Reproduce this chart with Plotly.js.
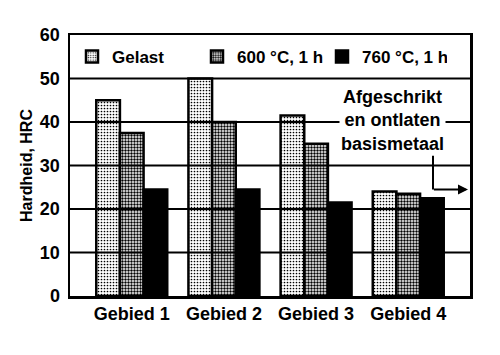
<!DOCTYPE html>
<html><head><meta charset="utf-8">
<script src="https://cdn.plot.ly/plotly-3.0.1.min.js"></script>
<style>body{margin:0;background:#fff}#c{width:500px;height:355px}</style>
</head><body><div id="c"></div>
<script>
const categories = ["Gebied 1", "Gebied 2", "Gebied 3", "Gebied 4"];
const seriesNames = ["Gelast", "600 °C, 1 h", "760 °C, 1 h"];
const gelast = [45, 50, 41.5, 24];
const t600 = [37.5, 40, 35, 23.5];
const t760 = [24.5, 24.5, 21.5, 22.5];
const yTicks = [0, 10, 20, 30, 40, 50, 60];
const gridVals = [10, 20, 30, 40, 50];

const FAM = "Liberation Sans, Arial, sans-serif";
const F = {family: FAM, size: 18, color: "#000", weight: "bold"};
const line = {color: "#000", width: 2.5};

const traces = [
  {type: "bar", name: seriesNames[0], x: categories, y: gelast,
   marker: {color: "#fff", line: line, pattern: {shape: ".", fgcolor: "#000", bgcolor: "#fff", size: 3, solidity: 0.25}}},
  {type: "bar", name: seriesNames[1], x: categories, y: t600,
   marker: {color: "#fff", line: line, pattern: {shape: ".", fgcolor: "#000", bgcolor: "#fff", size: 3, solidity: 0.5}}},
  {type: "bar", name: seriesNames[2], x: categories, y: t760,
   marker: {color: "#000", line: line}}
];

const shapes = gridVals.map(v => ({type: "line", xref: "paper", x0: 0, x1: 1, yref: "y", y0: v, y1: v,
  line: {color: "#000", width: 1.8}, layer: "above"}));
shapes.push({type: "line", xref: "paper", yref: "y", x0: 0.9075, x1: 0.9075, y0: 32.3, y1: 24.5,
  line: {color: "#000", width: 2}, layer: "above"});

const layout = {
  width: 500, height: 355,
  margin: {l: 70, r: 30, t: 35, b: 59},
  paper_bgcolor: "#fff", plot_bgcolor: "#fff",
  font: F,
  barmode: "group", bargap: 0.23, bargroupgap: 0,
  showlegend: true,
  legend: {orientation: "h", x: 0.005, y: 0.985, xanchor: "left", yanchor: "top",
    bgcolor: "rgba(0,0,0,0)", font: {family: FAM, size: 17, weight: "bold", color: "#000"},
    itemwidth: 30, entrywidth: 80, entrywidthmode: "pixels"},
  xaxis: {type: "category", range: [-0.67, 3.67], showgrid: false, showline: true, mirror: true,
    linecolor: "#000", linewidth: 2.5, ticks: "", tickfont: F, zeroline: false},
  yaxis: {range: [0, 60], tickvals: yTicks, showgrid: false, showline: true, mirror: true,
    linecolor: "#000", linewidth: 2.5, ticks: "", tickfont: F, zeroline: false, ticklabelstandoff: 4,
    title: {text: "Hardheid, HRC", font: {family: FAM, size: 16, weight: "bold", color: "#000"}, standoff: 4}},
  shapes: shapes,
  annotations: [
    {xref: "paper", yref: "y", x: 0.805, y: 40.4, xanchor: "center", yanchor: "middle",
     text: "Afgeschrikt<br>en ontlaten<br>basismetaal",
     showarrow: false, bgcolor: "#fff", align: "center",
     font: {family: FAM, size: 18, weight: "bold", color: "#000"}},
    {xref: "paper", yref: "y", x: 0.995, y: 24.5, ax: 0.906, ay: 24.5, axref: "paper", ayref: "y",
     text: "", showarrow: true, arrowhead: 2, arrowsize: 1, arrowwidth: 2, arrowcolor: "#000"}
  ]
};
Plotly.newPlot("c", traces, layout, {displayModeBar: false, staticPlot: true});
</script></body></html>
